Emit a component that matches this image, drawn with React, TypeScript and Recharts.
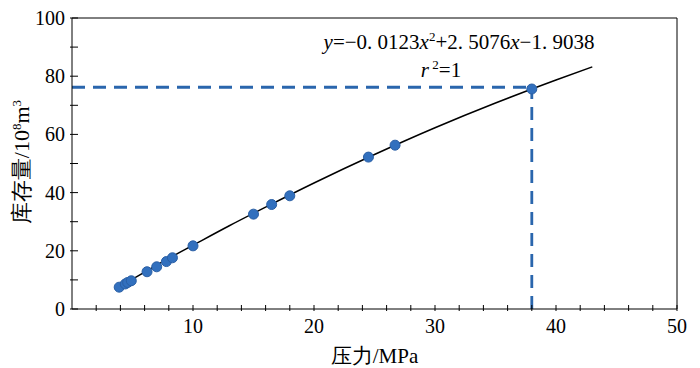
import { ComposedChart, Line, Scatter, XAxis, YAxis, ReferenceLine, Label } from 'recharts';

// measured points: pressure (MPa) vs storage (10^8 m^3)
const pressure = [3.9, 4.4, 4.6, 4.9, 6.2, 7.0, 7.8, 8.3, 10.0, 15.0, 16.5, 18.0, 24.5, 26.7, 38.0];
const storage = [7.5, 8.6, 9.1, 9.7, 12.8, 14.5, 16.3, 17.6, 21.7, 32.6, 35.9, 38.9, 52.2, 56.3, 75.6];

// fitted curve
const fitX = [3.9, 6, 8, 10, 13, 16, 20, 25, 30, 35, 38, 40, 43];
const fitY = [7.6, 12.7, 17.4, 21.9, 28.6, 35.0, 43.3, 53.1, 62.3, 70.8, 75.6, 78.7, 83.2];

const xTicks = [2, 4, 6, 8, 10, 12, 14, 16, 18, 20, 22, 24, 26, 28, 30, 32, 34, 36, 38, 40, 42, 44, 46, 48, 50];
const yTicks = [0, 10, 20, 30, 40, 50, 60, 70, 80, 90, 100];

const pressureMark = 38;
const storageMark = 76.2;

const points = pressure.map((x, i) => ({ x, y: storage[i] }));
const curve = fitX.map((x, i) => ({ x, fit: fitY[i] }));

const serif = 'Liberation Serif';
const blue = '#2a66ad';

// custom tick so the serif font is applied directly on the <text>
const XTick = ({ x, y, payload }: any) => (
  <g>
    <line x1={x} x2={x} y1={y} y2={y - 6} stroke="#000" />
    {payload.value % 10 === 0 && (
      <text x={x} y={y + 22} textAnchor="middle" fontFamily={serif} fontSize={20} fill="#000">
        {payload.value}
      </text>
    )}
  </g>
);

const YTick = ({ x, y, payload }: any) => (
  <g>
    <line x1={x} x2={x + 8} y1={y} y2={y} stroke="#000" />
    {payload.value % 20 === 0 && (
      <text x={x - 5} y={y + 7} textAnchor="end" fontFamily={serif} fontSize={20} fill="#000">
        {payload.value}
      </text>
    )}
  </g>
);

export default function App() {
  return (
    <div style={{ position: 'absolute', left: 0, top: 0, background: '#fff', fontFamily: serif }}>
      <ComposedChart width={700} height={368} margin={{ top: 18, right: 23, left: 0, bottom: 0 }}>
        <XAxis
          type="number"
          dataKey="x"
          domain={[0, 50]}
          ticks={xTicks}
          allowDataOverflow
          height={59}
          stroke="#000"
          tickLine={false}
          tickSize={0}
          tick={<XTick />}
        >
          <Label value="压力/MPa" position="insideBottom" offset={5} fontFamily={serif} style={{ fill: '#000', fontSize: 21, fontFamily: serif }} />
        </XAxis>
        <YAxis
          type="number"
          domain={[0, 100]}
          ticks={yTicks}
          width={72}
          stroke="#000"
          tickLine={false}
          tickSize={0}
          tick={<YTick />}
        />
        <ReferenceLine y={100} stroke="#000" />
        <ReferenceLine x={50} stroke="#000" />
        <ReferenceLine
          segment={[{ x: 0, y: storageMark }, { x: pressureMark, y: storageMark }]}
          stroke={blue}
          strokeWidth={2.8}
          strokeDasharray="13 8"
        />
        <ReferenceLine
          segment={[{ x: pressureMark, y: 0 }, { x: pressureMark, y: storageMark }]}
          stroke={blue}
          strokeWidth={2.8}
          strokeDasharray="13 8"
        />
        <Line
          data={curve}
          dataKey="fit"
          type="monotone"
          stroke="#000"
          strokeWidth={1.5}
          dot={false}
          isAnimationActive={false}
        />
        <Scatter data={points} dataKey="y" fill="#3270be" isAnimationActive={false} shape={(p: any) => <circle cx={p.cx} cy={p.cy} r={5} fill="#3270be" stroke="#2a5fa5" strokeWidth={1} />} />
        <text x={459} y={49} textAnchor="middle" fontFamily={serif} fontSize={21} fill="#000">
          <tspan fontStyle="italic">y</tspan>
          <tspan>=−0. 0123</tspan>
          <tspan fontStyle="italic">x</tspan>
          <tspan fontSize={13} dy={-8}>2</tspan>
          <tspan dy={8}>+2. 5076</tspan>
          <tspan fontStyle="italic">x</tspan>
          <tspan>−1. 9038</tspan>
        </text>
        <text x={441} y={77} textAnchor="middle" fontFamily={serif} fontSize={21} fill="#000">
          <tspan fontStyle="italic">r</tspan>
          <tspan fontSize={13} dy={-8}> 2</tspan>
          <tspan dy={8}>=1</tspan>
        </text>
        <text transform="translate(29,162) rotate(-90)" textAnchor="middle" fontFamily={serif} fontSize={22} fill="#000">
          <tspan>库存量/10</tspan>
          <tspan fontSize={13} dy={-8}>8</tspan>
          <tspan dy={8}>m</tspan>
          <tspan fontSize={13} dy={-8}>3</tspan>
        </text>
      </ComposedChart>
    </div>
  );
}
